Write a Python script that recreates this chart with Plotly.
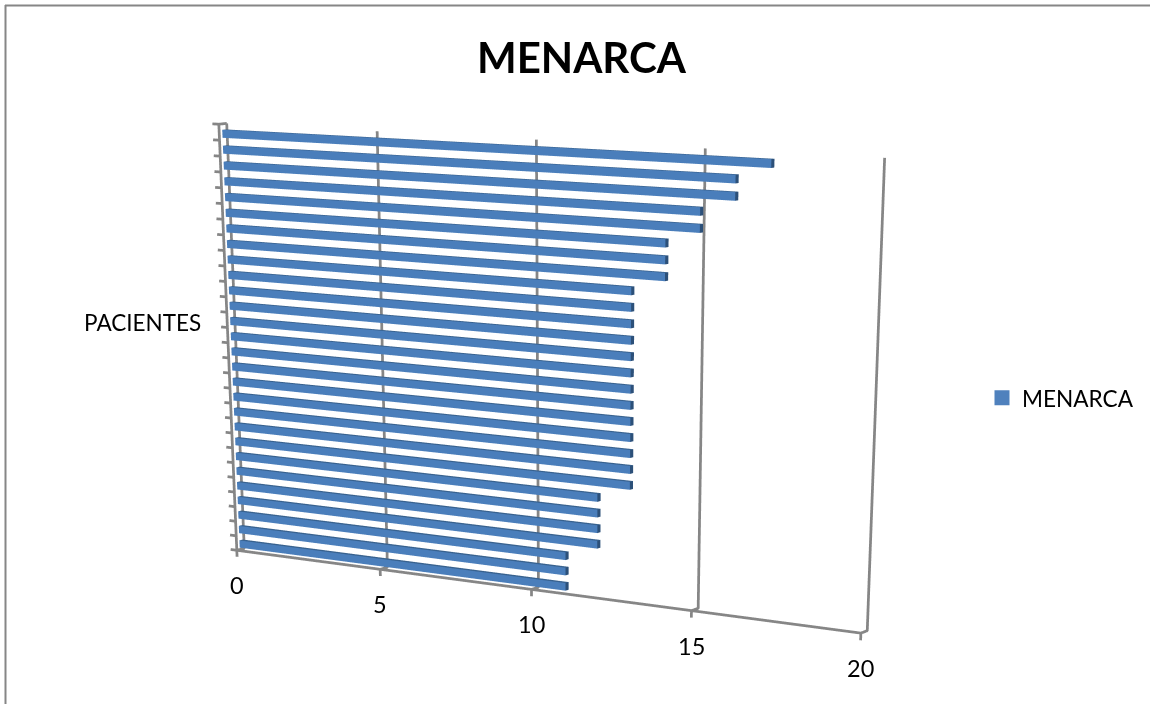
import plotly.graph_objects as go

# Age at menarche per patient, listed from the bottom of the axis upward
patients = list(range(1, 29))
menarca = [11, 11, 11, 12, 12, 12, 12,
           13, 13, 13, 13, 13, 13, 13, 13, 13, 13, 13, 13, 13,
           14, 14, 14, 15, 15, 16, 16, 17]
value_ticks = [0, 5, 10, 15, 20]

TITLE = "MENARCA"
CATEGORY_TITLE = "PACIENTES"
SERIES_NAME = "MENARCA"

FONT = "Lato, 'Open Sans', sans-serif"
GRID = "#868686"
BAR_FRONT = "#4A7EBB"
BAR_TOP = "#38628F"
BAR_END = "#2C5079"
LEGEND_SWATCH = "#4F81BD"

# The tall page gives the 3D view a long focal length with the optical axis
# below the visible area; only the top 704 px are shown.
PAGE_W, PAGE_H = 1150, 2748


def py(pixels_from_top):
    return 1 - pixels_from_top / PAGE_H


def px(pixels_from_left):
    return pixels_from_left / PAGE_W


fig = go.Figure()

# Bars as boxes: one triangle list, coloured per face
vx, vy, vz, ti, tj, tk, colors = [], [], [], [], [], [], []
DEPTH_FRONT, DEPTH_BACK = 0.4, 0.85
HALF = 0.25


def add_quad(corners, color):
    n = len(vx)
    for cx, cy, cz in corners:
        vx.append(cx)
        vy.append(cy)
        vz.append(cz)
    ti.extend([n, n])
    tj.extend([n + 1, n + 2])
    tk.extend([n + 2, n + 3])
    colors.extend([color, color])


for slot, value in zip(patients, menarca):
    mid = slot - 0.62
    low, high = mid - HALF, mid + HALF
    add_quad([(0, DEPTH_FRONT, low), (value, DEPTH_FRONT, low),
              (value, DEPTH_FRONT, high), (0, DEPTH_FRONT, high)], BAR_FRONT)
    add_quad([(0, DEPTH_FRONT, high), (value, DEPTH_FRONT, high),
              (value, DEPTH_BACK, high), (0, DEPTH_BACK, high)], BAR_TOP)
    add_quad([(value, DEPTH_FRONT, low), (value, DEPTH_BACK, low),
              (value, DEPTH_BACK, high), (value, DEPTH_FRONT, high)], BAR_END)

# Frame: walls, floor and tick marks
top = len(patients)
lx, ly, lz = [], [], []


def segment(*points):
    for p in points:
        lx.append(p[0])
        ly.append(p[1])
        lz.append(p[2])
    lx.append(None)
    ly.append(None)
    lz.append(None)


for v in value_ticks:
    segment((v, 0, -0.45), (v, 0, 0), (v, 1, 0), (v, 1, top))
segment((0, 0, 0), (value_ticks[-1], 0, 0))
segment((0, 0, 0), (0, 0, top), (0, 1, top))
for slot in range(top + 1):
    segment((-0.22, 0, slot), (0, 0, slot))

fig.add_trace(go.Scatter3d(x=lx, y=ly, z=lz, mode="lines",
                           line=dict(color=GRID, width=5.5),
                           hoverinfo="skip", showlegend=False))

fig.add_trace(go.Mesh3d(x=vx, y=vy, z=vz, i=ti, j=tj, k=tk,
                        facecolor=colors, flatshading=True,
                        lighting=dict(ambient=1, diffuse=0, specular=0,
                                      roughness=1, fresnel=0),
                        hoverinfo="skip", showlegend=False))

# Legend entry for the series
fig.add_trace(go.Scatter3d(x=[None], y=[None], z=[None], mode="markers",
                           name=SERIES_NAME,
                           marker=dict(symbol="square", size=15,
                                       color=LEGEND_SWATCH)))

hidden = dict(visible=False, showgrid=False, zeroline=False,
              showticklabels=False, showbackground=False, showspikes=False)

tick_labels = [dict(x=v, y=0, z=0, text=str(v), showarrow=False, yshift=-35,
                    font=dict(family=FONT, size=23.5, color="#000000"))
               for v in value_ticks]

fig.update_layout(
    width=PAGE_W, height=PAGE_H, autosize=False,
    margin=dict(l=0, r=0, t=0, b=0),
    paper_bgcolor="white",
    scene=dict(
        domain=dict(x=[0, 1], y=[0, 1]),
        xaxis=dict(range=[-0.3, 20.1], **hidden),
        yaxis=dict(range=[-0.1, 1.1], **hidden),
        zaxis=dict(range=[-0.5, 28.1], **hidden),
        aspectmode="manual",
        aspectratio=dict(x=1.8054, y=0.036, z=1.02143),
        dragmode="orbit",
        camera=dict(eye=dict(x=4.39835, y=-6.606, z=1.10744),
                    center=dict(x=0.44835, y=-0.5044, z=-2.24086),
                    up=dict(x=-0.22696, y=0.3507, z=0.90819),
                    projection=dict(type="perspective")),
        annotations=tick_labels,
    ),
    showlegend=True,
    legend=dict(x=px(988), y=py(398), xanchor="left", yanchor="middle",
                indentation=-6,
                font=dict(family=FONT, size=22.6, color="#000000"),
                bgcolor="rgba(0,0,0,0)", itemclick=False, itemdoubleclick=False),
    annotations=[
        dict(x=px(582), y=py(57), xref="paper", yref="paper", text=TITLE,
             xanchor="center", yanchor="middle", showarrow=False,
             font=dict(family=FONT, size=42, color="#000000", weight="bold")),
        dict(x=px(142), y=py(323), xref="paper", yref="paper",
             text=CATEGORY_TITLE, xanchor="center", yanchor="middle",
             showarrow=False,
             font=dict(family=FONT, size=22.5, color="#000000")),
    ],
    shapes=[
        dict(type="line", xref="paper", yref="paper", x0=px(5), x1=1,
             y0=py(5.5), y1=py(5.5), line=dict(color=GRID, width=2)),
        dict(type="line", xref="paper", yref="paper", x0=px(5.5), x1=px(5.5),
             y0=py(5), y1=py(704), line=dict(color=GRID, width=2)),
    ],
)

fig.write_html(
    "out.html",
    post_script=(
        "document.documentElement.style.overflow='hidden';"
        "document.body.style.overflow='hidden';"
    ),
)
